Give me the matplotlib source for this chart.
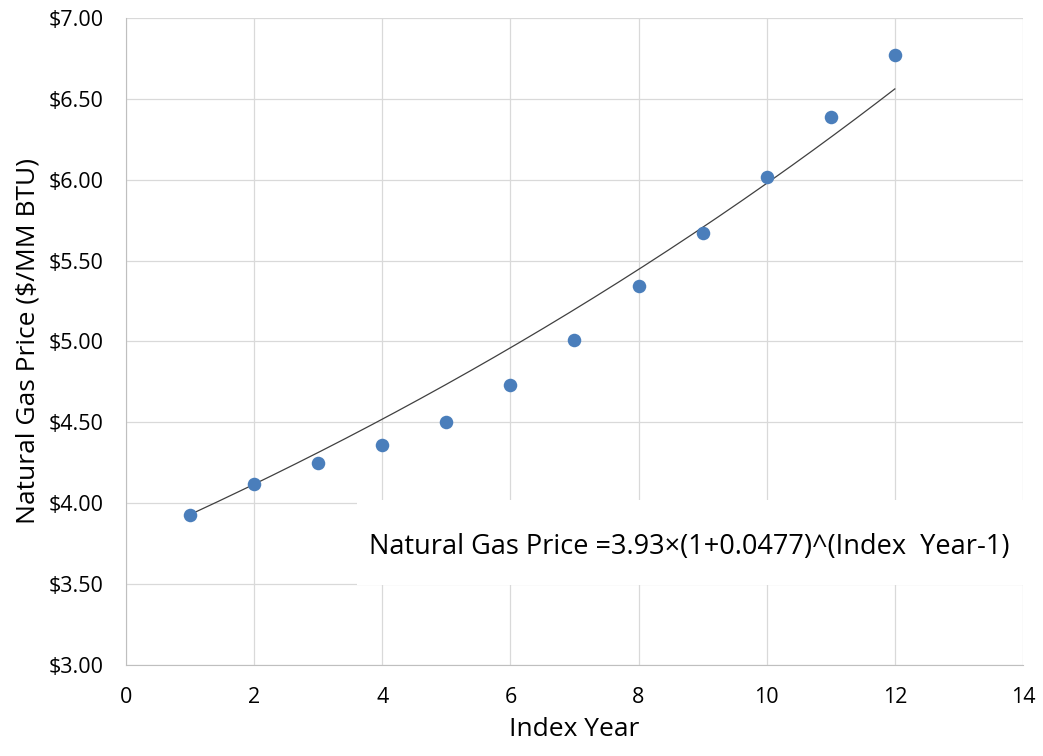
import numpy as np
import matplotlib
matplotlib.use("Agg")
import matplotlib.pyplot as plt
from matplotlib.patches import Rectangle

plt.rcParams['font.family'] = ['Open Sans', 'DejaVu Sans']

index_year = [1, 2, 3, 4, 5, 6, 7, 8, 9, 10, 11, 12]
price = [3.93, 4.12, 4.25, 4.36, 4.50, 4.73, 5.01, 5.34, 5.67, 6.02, 6.39, 6.77]
base_price = 3.93
growth_rate = 0.0477
x_ticks = [0, 2, 4, 6, 8, 10, 12, 14]
y_ticks = [3.0, 3.5, 4.0, 4.5, 5.0, 5.5, 6.0, 6.5, 7.0]
equation_text = "Natural Gas Price =3.93\u00d7(1+0.0477)^(Index  Year-1)"

fig = plt.figure(figsize=(10.43, 7.56), dpi=100)
ax = fig.add_axes([0.1208, 0.1204, 0.86, 0.8558])

trend_x = np.linspace(index_year[0], index_year[-1], 200)
trend_y = base_price * (1 + growth_rate) ** (trend_x - 1)
ax.plot(trend_x, trend_y, color='#404040', lw=0.9, zorder=3)
ax.scatter(index_year, price, s=95, color='#4A7EBB', zorder=4, linewidths=0)

ax.set_xlim(0, 14)
ax.set_ylim(3, 7)
ax.set_xticks(x_ticks)
ax.set_yticks(y_ticks)
ax.set_yticklabels([f"${v:.2f}" for v in y_ticks])
ax.grid(True, color='#D9D9D9', lw=0.9)
ax.set_axisbelow(True)
for s in ['top', 'right']:
    ax.spines[s].set_visible(False)
for s in ['left', 'bottom']:
    ax.spines[s].set_color('#BFBFBF')
ax.tick_params(axis='both', length=0, labelsize=15.5, colors='black')
ax.tick_params(axis='y', pad=16)
ax.tick_params(axis='x', pad=16)

ax.set_xlabel("Index Year", fontsize=19, labelpad=6)
ax.set_ylabel("Natural Gas Price ($/MM BTU)", fontsize=19, labelpad=6)

ax.add_patch(Rectangle((0.2575, 0.1236), 1 - 0.2575, 0.1314, transform=ax.transAxes,
                       facecolor='white', edgecolor='none', zorder=2, clip_on=False))
ax.text(0.2709, 0.1824, equation_text, transform=ax.transAxes, fontsize=19.5,
        va='center', ha='left', zorder=5)

fig.savefig("out.png", dpi=100)
